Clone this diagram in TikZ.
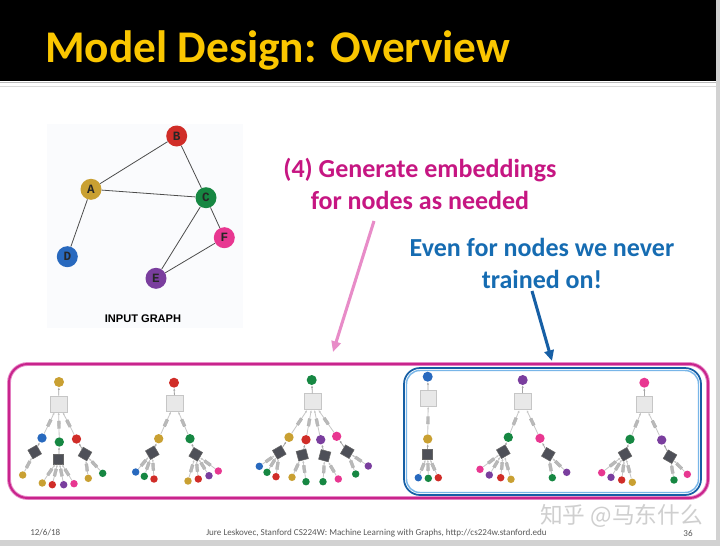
\documentclass[tikz,border=0pt]{standalone}
\usepackage{fontspec}
\setmainfont{Carlito}
\newfontfamily\cjk{Noto Sans CJK SC}
\newfontfamily\monob{Liberation Mono}
\newfontfamily\helv{Liberation Sans}
\usetikzlibrary{arrows.meta}

\definecolor{colA}{RGB}{201,160,50}
\definecolor{colB}{RGB}{208,45,40}
\definecolor{colC}{RGB}{22,135,66}
\definecolor{colD}{RGB}{40,105,190}
\definecolor{colE}{RGB}{122,62,158}
\definecolor{colF}{RGB}{232,55,145}
\definecolor{titleyellow}{RGB}{250,198,0}
\definecolor{pinktext}{RGB}{198,22,130}
\definecolor{bluetext}{RGB}{22,108,178}
\definecolor{pinklight}{RGB}{232,140,200}
\definecolor{pinkdark}{RGB}{200,36,140}
\definecolor{bluedark}{RGB}{22,95,165}
\definecolor{bluelight}{RGB}{120,182,232}
\definecolor{graphbg}{RGB}{250,251,253}
\definecolor{nnetgray}{RGB}{78,80,88}

\begin{document}
\begin{tikzpicture}[x=0.75pt,y=-0.75pt,
  gnode/.style={circle,inner sep=0pt,minimum size=15.75pt,text=black!85,font=\monob\bfseries\fontsize{9.5}{9.5}\selectfont},
  gedge/.style={draw=black!70,line width=0.6pt},
  rootdot/.style={circle,inner sep=0pt,minimum size=7.5pt},
  hopdot/.style={circle,inner sep=0pt,minimum size=7pt},
  leafdot/.style={circle,inner sep=0pt,minimum size=5.6pt},
  agg/.style={draw=gray!45,fill=gray!18,inner sep=0pt,minimum width=12.5pt,minimum height=12pt},
  nnet/.style={fill=nnetgray,draw=black!60,inner sep=0pt,minimum size=7.5pt},
  link/.style={draw=gray!45,line width=0.6pt,-{Latex[length=2pt,width=1.6pt]}},
  stem/.style={draw=gray!70,line width=0.6pt,-{Latex[length=2pt,width=1.6pt]}},
  wmark/.style={sloped,fill=gray!55,draw=gray!65,line width=0.2pt,inner sep=0pt,minimum width=5.5pt,minimum height=2.2pt},
  foot/.style={text=black!65,font=\fontsize{6.8}{7}\selectfont,inner sep=0pt},
  callout/.style={align=center,font=\bfseries\fontsize{19.5}{24}\selectfont}]
\useasboundingbox (0,0) rectangle (720,546);
\fill[white] (0,0) rectangle (720,546);

% title bar
\fill[black] (0,0) rectangle (720,81);
\draw[gray!55,line width=0.75pt] (0,82.5) -- (716,82.5);
\draw[gray!30,line width=0.5pt] (0,86) -- (716,86);
\node[anchor=base west,inner sep=0pt,text=titleyellow,font=\bfseries\fontsize{34}{34}\selectfont] (title) at (45,62) {Model Design: Overview};

% slide edge
\fill[gray!35] (716,0) rectangle (720,546);
\fill[gray!35] (0,540) rectangle (720,546);

% input graph
\fill[graphbg] (47,124) rectangle (243,328);
\node[gnode,fill=colB] (B) at (176.7,136) {B};
\node[gnode,fill=colA] (A) at (91,189.3) {A};
\node[gnode,fill=colC] (C) at (206,197.7) {C};
\node[gnode,fill=colF] (F) at (224.3,237.7) {F};
\node[gnode,fill=colD] (D) at (67.3,256.7) {D};
\node[gnode,fill=colE] (E) at (156,278.3) {E};
\foreach \u/\v in {A/B,A/C,B/C,A/D,C/E,C/F,E/F}
  \draw[gedge] (\u) -- (\v);
\node[font=\helv\bfseries\fontsize{8.3}{10}\selectfont] (caption) at (143,318.3) {INPUT GRAPH};

% callouts
\node[callout,text=pinktext] (gen) at (420,184) {(4) Generate embeddings\\for nodes as needed};
\node[callout,text=bluetext] (never) at (542,263) {Even for nodes we never\\trained on!};
\coordinate (pinktail) at (374,221);
\coordinate (pinkhead) at (333,352);
\coordinate (bluetail) at (532,291);
\coordinate (bluehead) at (552,361);
\draw[pinklight,line width=2.3pt,-{Triangle[length=8pt,width=7pt]}] (pinktail) -- (pinkhead);
\draw[bluedark,line width=2.3pt,-{Triangle[length=8pt,width=7pt]}] (bluetail) -- (bluehead);

% frames
\draw[draw=pinklight,line width=0.7pt,double=pinkdark,double distance=1.5pt,rounded corners=14pt] (9,364) rectangle (708,498);
\draw[bluedark,line width=1.3pt,rounded corners=12pt] (404,368) rectangle (701,495);
\draw[bluelight,line width=1.1pt,rounded corners=10pt] (406.5,370.5) rectangle (698.5,492.5);

% tree of A
\node[rootdot,fill=colA] (a) at (59,382) {};
\node[agg] (a0) at (58.5,404) {};
\node[hopdot,fill=colD] (ad) at (42,438) {};
\node[hopdot,fill=colC] (ac) at (59.3,442) {};
\node[hopdot,fill=colB] (ab) at (76.5,439) {};
\node[nnet,rotate=30] (adk) at (34.7,452) {};
\node[nnet] (ack) at (58.7,459) {};
\node[nnet,rotate=-30] (abk) at (85,454) {};
\node[leafdot,fill=colA] (ada) at (22.7,475) {};
\node[leafdot,fill=colA] (aca) at (42.3,483) {};
\node[leafdot,fill=colB] (acb) at (52.3,484.7) {};
\node[leafdot,fill=colE] (ace) at (63.7,484.7) {};
\node[leafdot,fill=colF] (acf) at (74,483.7) {};
\node[leafdot,fill=colA] (aba) at (88.3,478.3) {};
\node[leafdot,fill=colC] (abc) at (102.7,473.3) {};

% tree of B
\node[rootdot,fill=colB] (b) at (174,382.7) {};
\node[agg] (b0) at (174.7,403.3) {};
\node[hopdot,fill=colA] (ba) at (158.7,438.7) {};
\node[hopdot,fill=colC] (bc) at (190,438.7) {};
\node[nnet,rotate=30] (bak) at (152.3,452.7) {};
\node[nnet,rotate=-30] (bck) at (195.7,454.3) {};
\node[leafdot,fill=colD] (bad) at (135.7,472) {};
\node[leafdot,fill=colC] (bac) at (144.3,476.3) {};
\node[leafdot,fill=colB] (bab) at (154,479) {};
\node[leafdot,fill=colA] (bca) at (188,481) {};
\node[leafdot,fill=colB] (bcb) at (198.3,479) {};
\node[leafdot,fill=colE] (bce) at (209,475.7) {};
\node[leafdot,fill=colF] (bcf) at (218.3,471) {};

% tree of C
\node[rootdot,fill=colC] (c) at (311.7,380) {};
\node[agg] (c0) at (312.7,401.7) {};
\node[hopdot,fill=colA] (ca) at (289,437.3) {};
\node[hopdot,fill=colB] (cb) at (306,439.7) {};
\node[hopdot,fill=colE] (ce) at (320.7,439.7) {};
\node[hopdot,fill=colF] (cf) at (336.7,436.3) {};
\node[nnet,rotate=30] (cak) at (279.3,452.3) {};
\node[nnet,rotate=15] (cbk) at (302.3,455) {};
\node[nnet,rotate=-15] (cek) at (324.7,455.7) {};
\node[nnet,rotate=-30] (cfk) at (347.3,451.7) {};
\node[leafdot,fill=colD] (cad) at (259.3,466.3) {};
\node[leafdot,fill=colC] (cac) at (267,472.3) {};
\node[leafdot,fill=colB] (cab) at (276,476.7) {};
\node[leafdot,fill=colA] (cba) at (292,477.3) {};
\node[leafdot,fill=colC] (cbc) at (306,481.7) {};
\node[leafdot,fill=colC] (cec) at (323,481.7) {};
\node[leafdot,fill=colF] (cef) at (338.3,479) {};
\node[leafdot,fill=colC] (cfc) at (355.7,474) {};
\node[leafdot,fill=colE] (cfe) at (368.3,466) {};

% tree of D
\node[rootdot,fill=colD] (d) at (427.7,376.7) {};
\node[agg] (d0) at (428.3,398.3) {};
\node[hopdot,fill=colA] (da) at (427.7,439) {};
\node[nnet] (dak) at (427.7,454.3) {};
\node[leafdot,fill=colD] (dad) at (418.3,477.7) {};
\node[leafdot,fill=colC] (dac) at (428.3,478.3) {};
\node[leafdot,fill=colB] (dab) at (438.3,477.7) {};

% tree of E
\node[rootdot,fill=colE] (e) at (522.7,380) {};
\node[agg] (e0) at (522.7,401.7) {};
\node[hopdot,fill=colC] (ec) at (508.3,437.3) {};
\node[hopdot,fill=colF] (ef) at (540,438.3) {};
\node[nnet,rotate=30] (eck) at (503.3,451.7) {};
\node[nnet,rotate=-30] (efk) at (548.3,454.3) {};
\node[leafdot,fill=colF] (ecf) at (480,469.3) {};
\node[leafdot,fill=colE] (ece) at (489.3,475) {};
\node[leafdot,fill=colB] (ecb) at (500.7,477.7) {};
\node[leafdot,fill=colA] (eca) at (511,479.3) {};
\node[leafdot,fill=colC] (efc) at (552.3,477.7) {};
\node[leafdot,fill=colE] (efe) at (566.7,472.3) {};

% tree of F
\node[rootdot,fill=colF] (f) at (644.3,382.7) {};
\node[agg] (f0) at (644.3,404.3) {};
\node[hopdot,fill=colC] (fc) at (630,439.3) {};
\node[hopdot,fill=colE] (fe) at (661.7,440) {};
\node[nnet,rotate=30] (fck) at (625,454.3) {};
\node[nnet,rotate=-30] (fek) at (670,456.7) {};
\node[leafdot,fill=colF] (fcf) at (601.7,472.7) {};
\node[leafdot,fill=colE] (fce) at (611,477.3) {};
\node[leafdot,fill=colB] (fcb) at (621.7,480) {};
\node[leafdot,fill=colA] (fca) at (632.3,482.3) {};
\node[leafdot,fill=colC] (fec) at (674,480) {};
\node[leafdot,fill=colF] (fef) at (687.3,474.3) {};

% box to node
\foreach \u/\v in {a0/a,adk/ad,ack/ac,abk/ab, b0/b,bak/ba,bck/bc,
    c0/c,cak/ca,cbk/cb,cek/ce,cfk/cf, d0/d,dak/da, e0/e,eck/ec,efk/ef, f0/f,fck/fc,fek/fe}
  \draw[stem] (\u) -- (\v);
% neighbour to box
\foreach \u/\v in {ad/a0,ac/a0,ab/a0,ada/adk,aca/ack,acb/ack,ace/ack,acf/ack,aba/abk,abc/abk,
    ba/b0,bc/b0,bad/bak,bac/bak,bab/bak,bca/bck,bcb/bck,bce/bck,bcf/bck,
    ca/c0,cb/c0,ce/c0,cf/c0,cad/cak,cac/cak,cab/cak,cba/cbk,cbc/cbk,cec/cek,cef/cek,cfc/cfk,cfe/cfk,
    da/d0,dad/dak,dac/dak,dab/dak,
    ec/e0,ef/e0,ecf/eck,ece/eck,ecb/eck,eca/eck,efc/efk,efe/efk,
    fc/f0,fe/f0,fcf/fck,fce/fck,fcb/fck,fca/fck,fec/fek,fef/fek}
  \draw[link] (\u) -- node[wmark] {} (\v);

% footer
\node[foot,anchor=west] (date) at (30,533) {12/6/18};
\node[foot] (credit) at (376.5,533) {Jure Leskovec, Stanford CS224W: Machine Learning with Graphs, http://cs224w.stanford.edu};
\node[foot] (pageno) at (688,533) {36};
\node[font=\cjk\fontsize{17}{17}\selectfont,text=gray!38,inner sep=0pt] (mark) at (621.5,516) {知乎 @马东什么};
\end{tikzpicture}
\end{document}
